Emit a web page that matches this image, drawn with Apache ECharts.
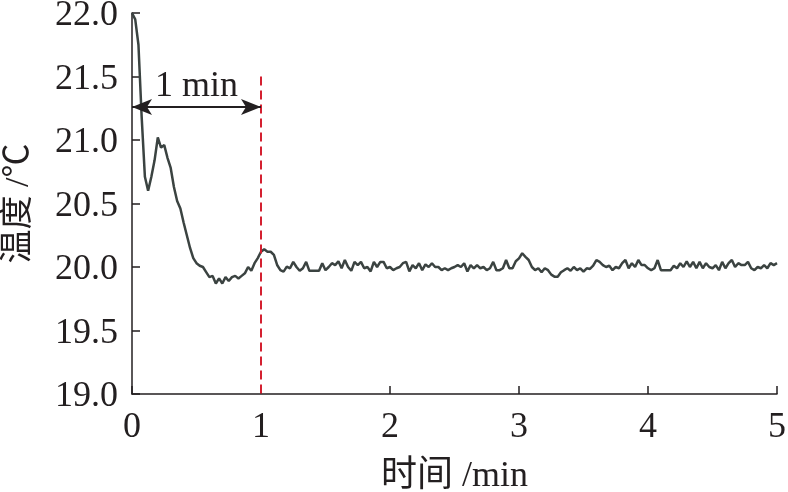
<!DOCTYPE html>
<html>
<head>
<meta charset="utf-8">
<script src="https://cdn.jsdelivr.net/npm/echarts@6/dist/echarts.min.js"></script>
<style>
html,body{margin:0;padding:0;background:#fff;}
#chart{width:788px;height:492px;}
</style>
</head>
<body>
<div id="chart"></div>
<script>
// Sampling step of the record (min)
const SAMPLE_STEP = 0.025;
// Temperature readings (°C), one per sample from t = 0 to t = 5 min
const temperature = [
  22.00, 21.95, 21.75, 21.18, 20.71, 20.60, 20.71, 20.84, 21.02, 20.94,
  20.96, 20.86, 20.78, 20.63, 20.52, 20.46, 20.35, 20.25, 20.15, 20.07,
  20.03, 20.01, 20.00, 19.96, 19.92, 19.93, 19.87, 19.91, 19.87, 19.92,
  19.89, 19.92, 19.93, 19.91, 19.93, 19.95, 20.00, 19.97, 20.03, 20.07,
  20.12, 20.14, 20.12, 20.12, 20.095, 20.016, 19.976, 19.963, 20.003, 19.99,
  20.04, 20.00, 19.97, 19.99, 20.04, 19.97, 19.97, 19.97, 19.97, 20.03,
  19.975, 20.00, 20.03, 20.015, 20.045, 19.99, 20.055, 20.00, 19.97, 20.04,
  20.015, 20.04, 19.99, 20.00, 19.965, 20.04, 20.00, 20.04, 20.04, 19.99,
  20.00, 19.975, 19.99, 20.00, 20.03, 20.04, 19.965, 20.015, 19.99, 20.03,
  19.975, 20.02, 20.00, 20.03, 20.00, 20.00, 19.975, 19.99, 19.975, 19.99,
  20.00, 20.015, 20.00, 20.03, 19.965, 20.015, 19.99, 20.015, 19.99, 20.00,
  19.975, 19.99, 20.04, 19.975, 19.975, 19.99, 20.055, 19.99, 19.99, 20.045,
  20.068, 20.108, 20.08, 20.055, 20.00, 19.975, 19.99, 19.958, 19.99, 19.975,
  19.94, 19.924, 19.924, 19.958, 19.975, 19.99, 19.97, 20.00, 19.975, 19.99,
  19.963, 19.99, 19.985, 20.01, 20.055, 20.04, 20.015, 20.00, 20.01, 19.975,
  20.00, 19.99, 20.03, 20.055, 19.99, 20.03, 20.00, 20.055, 20.015, 20.015,
  19.99, 19.975, 19.99, 20.055, 19.975, 19.975, 19.975, 19.975, 20.01, 19.99,
  20.03, 20.00, 20.045, 20.00, 20.04, 19.99, 20.04, 19.99, 20.03, 20.00,
  19.99, 20.015, 19.975, 20.04, 19.99, 20.03, 20.055, 20.00, 20.03, 20.015,
  20.015, 20.04, 19.99, 19.975, 20.00, 19.99, 20.015, 19.99, 20.03, 20.015,
  20.03
];
// Axis ticks
const xTicks = [0, 1, 2, 3, 4, 5];
const yTicks = [19.0, 19.5, 20.0, 20.5, 21.0, 21.5, 22.0];
// Annotation: 1-minute span marker
const spanStart = 0, spanEnd = 1, spanLevel = 21.26, spanLabel = '1 min';
const markerTime = 1, markerTop = 21.5;

const seriesData = temperature.map((v, i) => [+(i * SAMPLE_STEP).toFixed(3), v]);

const FONT = "'Liberation Serif', 'Times New Roman', 'Noto Sans CJK SC', serif";
const INK = '#231f20';

const chart = echarts.init(document.getElementById('chart'), null, {renderer: 'canvas'});
chart.setOption({
  animation: false,
  backgroundColor: '#ffffff',
  grid: {left: 132, right: 11, top: 13, bottom: 98, containLabel: false, outerBoundsMode: 'none'},
  xAxis: {
    type: 'value',
    min: xTicks[0], max: xTicks[xTicks.length - 1], interval: 1,
    name: '时间 /min',
    nameLocation: 'middle',
    nameGap: 65,
    nameTextStyle: {fontFamily: FONT, fontSize: 36, color: INK},
    axisLine: {show: true, onZero: false, lineStyle: {color: INK, width: 1.5}},
    axisTick: {show: true, inside: true, length: 8, lineStyle: {color: INK, width: 1.5}},
    axisLabel: {fontFamily: FONT, fontSize: 36, color: INK, margin: 16},
    splitLine: {show: false}
  },
  yAxis: {
    type: 'value',
    min: yTicks[0], max: yTicks[yTicks.length - 1], interval: 0.5,
    name: '温度 /℃',
    nameLocation: 'middle',
    nameGap: 96,
    nameTextStyle: {fontFamily: FONT, fontSize: 34, color: INK},
    axisLine: {show: true, onZero: false, lineStyle: {color: INK, width: 1.5}},
    axisTick: {show: true, inside: true, length: 8, lineStyle: {color: INK, width: 1.5}},
    axisLabel: {fontFamily: FONT, fontSize: 36, color: INK, margin: 14,
      verticalAlign: 'top', lineHeight: 6,
      formatter: v => v.toFixed(1)},
    splitLine: {show: false}
  },
  series: [
    {
      type: 'line',
      data: seriesData,
      showSymbol: false,
      symbol: 'none',
      lineStyle: {color: '#3b4341', width: 2.5},
      z: 3,
      markLine: {
        silent: true,
        animation: false,
        data: [
          [
            {coord: [markerTime, markerTop], symbol: 'none',
              lineStyle: {color: '#d42030', width: 2, type: [9, 5]}, label: {show: false}},
            {coord: [markerTime, yTicks[0]], symbol: 'none'}
          ],
          [
            {coord: [spanStart, spanLevel], symbol: 'arrow', symbolSize: [12, 20],
              lineStyle: {color: INK, width: 2, type: 'solid'},
              label: {show: true, formatter: spanLabel, position: 'insideMiddleTop',
                distance: 2, fontFamily: FONT, fontSize: 36, color: INK}},
            {coord: [spanEnd, spanLevel], symbol: 'arrow', symbolSize: [12, 20]}
          ]
        ]
      }
    }
  ]
});
</script>
</body>
</html>
